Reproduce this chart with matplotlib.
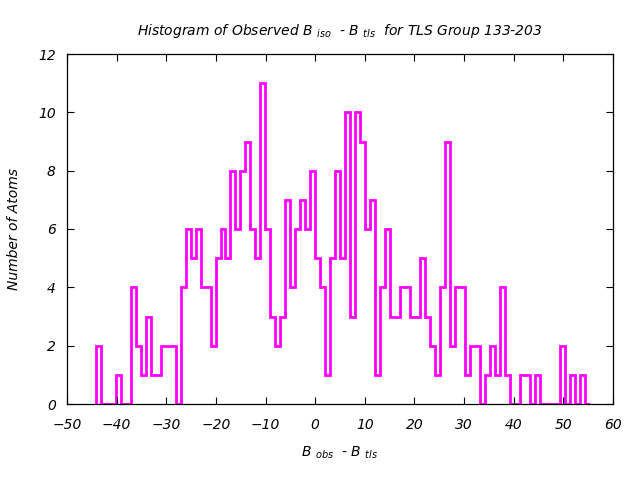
import numpy as np
import matplotlib.pyplot as plt

plt.rcParams['font.family'] = ['DejaVu Sans']
plt.rcParams['font.style'] = 'italic'
plt.rcParams['mathtext.fontset'] = 'dejavusans'
plt.rcParams['mathtext.default'] = 'it'

# counts per bin (99 bins of ~1 unit)
counts = [2, 0, 0, 0, 1, 0, 0, 4, 2, 1,
          3, 1, 1, 2, 2, 2, 0, 4, 6, 5,
          6, 4, 4, 2, 5, 6, 5, 8, 6, 8,
          9, 6, 5, 11, 6, 3, 2, 3, 7, 4,
          6, 7, 6, 8, 5, 4, 1, 5, 8, 5,
          10, 3, 10, 9, 6, 7, 1, 4, 6, 3,
          3, 4, 4, 3, 3, 5, 3, 2, 1, 4,
          9, 2, 4, 4, 1, 2, 2, 0, 1, 2,
          1, 4, 1, 0, 0, 1, 1, 0, 1, 0,
          0, 0, 0, 2, 0, 1, 0, 1, 0]
bin_lo = -44.2
bin_hi = 55.3
edges = np.linspace(bin_lo, bin_hi, len(counts) + 1)

xticks = np.arange(-50, 61, 10)
yticks = np.arange(0, 13, 2)

fig = plt.figure(figsize=(6.4, 4.8), dpi=100)
ax = fig.add_axes([67/640, 1 - 404/480, 546/640, 350/480])

ax.stairs(counts, edges, baseline=0, color='#ff00ff', linewidth=2.0)

ax.set_xlim(-50, 60)
ax.set_ylim(0, 12)
ax.set_xticks(xticks)
ax.set_yticks(yticks)
ax.tick_params(direction='in', top=True, right=True, length=5, width=0.8,
               labelsize=10)
ax.tick_params(axis='x', pad=10)
ax.tick_params(axis='y', pad=8)
for s in ax.spines.values():
    s.set_linewidth(0.9)

ax.set_title(r'Histogram of Observed B $_{iso}$  - B $_{tls}$  for TLS Group 133-203',
             fontsize=10, pad=14)
ax.set_xlabel(r'B $_{obs}$  - B $_{tls}$', fontsize=10, labelpad=9)
ax.set_ylabel('Number of Atoms', fontsize=10, labelpad=12)

fig.savefig('out.png', dpi=100)
